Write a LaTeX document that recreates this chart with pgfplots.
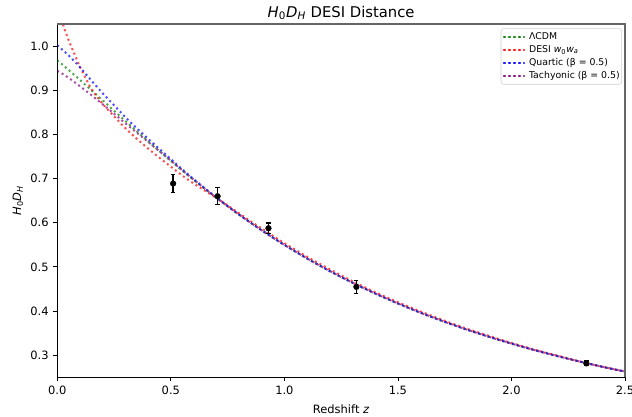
\documentclass[border=0pt]{standalone}
\usepackage{pgfplots}
\usepackage{pgfplotstable}
\pgfplotsset{compat=1.18}
\usepackage{fontspec}
\setmainfont{DejaVu Sans}
\definecolor{mplg}{RGB}{0,128,0}
\definecolor{mplr}{RGB}{255,0,0}
\definecolor{mplb}{RGB}{0,0,255}
\definecolor{mplp}{RGB}{128,0,128}

\pgfplotstableread{
z D
0 0.9680
0.025 0.9570
0.05 0.9459
0.075 0.9346
0.1 0.9233
0.15 0.9002
0.2 0.8770
0.25 0.8536
0.3 0.8303
0.35 0.8072
0.4 0.7843
0.45 0.7618
0.5 0.7397
0.55 0.7181
0.6 0.6970
0.65 0.6765
0.7 0.6565
0.75 0.6372
0.8 0.6185
0.85 0.6004
0.9 0.5829
0.95 0.5661
1.0 0.5498
1.1 0.5190
1.2 0.4905
1.3 0.4641
1.4 0.4397
1.5 0.4171
1.6 0.3961
1.7 0.3767
1.8 0.3586
1.9 0.3419
2.0 0.3263
2.1 0.3118
2.2 0.2983
2.3 0.2857
2.4 0.2739
2.5 0.2629
}\lcdm

\pgfplotstableread{
z D
0 1.093
0.025 1.049
0.05 1.013
0.075 0.983
0.1 0.953
0.15 0.903
0.2 0.869
0.25 0.841
0.3 0.814
0.35 0.790
0.4 0.768
0.45 0.747
0.5 0.727
0.55 0.707
0.6 0.689
0.65 0.6725
0.7 0.6565
0.75 0.6392
0.8 0.6215
0.85 0.6039
0.9 0.5869
0.95 0.5701
1.0 0.5538
1.1 0.5230
1.2 0.4945
1.3 0.4676
1.4 0.4427
1.5 0.4201
1.6 0.3991
1.7 0.3792
1.8 0.3606
1.9 0.3439
2.0 0.3278
2.1 0.3128
2.2 0.2993
2.3 0.2862
2.4 0.2739
2.5 0.2629
}\desi

\pgfplotstableread{
z D
0 1.002
0.025 0.9905
0.05 0.979
0.075 0.9656
0.1 0.952
0.15 0.922
0.2 0.893
0.25 0.866
0.3 0.839
0.35 0.814
0.4 0.790
0.45 0.767
0.5 0.744
0.55 0.721
0.6 0.699
0.65 0.678
0.7 0.6575
0.75 0.6377
0.8 0.6185
0.85 0.6004
0.9 0.5829
0.95 0.5661
1.0 0.5498
1.1 0.5190
1.2 0.4905
1.3 0.4641
1.4 0.4397
1.5 0.4171
1.6 0.3961
1.7 0.3767
1.8 0.3586
1.9 0.3419
2.0 0.3263
2.1 0.3118
2.2 0.2983
2.3 0.2857
2.4 0.2739
2.5 0.2629
}\quartic

\pgfplotstableread{
z D
0 0.944
0.025 0.9365
0.05 0.928
0.075 0.9186
0.1 0.909
0.15 0.889
0.2 0.868
0.25 0.847
0.3 0.825
0.35 0.804
0.4 0.783
0.45 0.7618
0.5 0.7407
0.55 0.7191
0.6 0.6978
0.65 0.6770
0.7 0.6568
0.75 0.6374
0.8 0.6185
0.85 0.6004
0.9 0.5829
0.95 0.5661
1.0 0.5498
1.1 0.5190
1.2 0.4905
1.3 0.4641
1.4 0.4397
1.5 0.4171
1.6 0.3961
1.7 0.3767
1.8 0.3586
1.9 0.3419
2.0 0.3263
2.1 0.3118
2.2 0.2983
2.3 0.2857
2.4 0.2739
2.5 0.2629
}\tachy

\pgfplotstableread{
z D err
0.510 0.6887 0.0205
0.706 0.6600 0.0197
0.930 0.5875 0.0118
1.317 0.4548 0.0150
2.330 0.2814 0.0056
}\desidata

\newcommand{\tickfont}{\fontsize{8.6}{10}\selectfont}
\newcommand{\legfont}{\fontsize{7}{8.5}\selectfont}

\begin{document}
\begin{tikzpicture}
\begin{axis}[
  scale only axis,
  width=425.8pt, height=265pt,
  xmin=0, xmax=2.5, ymin=0.25, ymax=1.05,
  axis x line*=bottom, axis y line*=left,
  axis line style={line width=0.8pt, black},
  xtick={0,0.5,1.0,1.5,2.0,2.5},
  ytick={0.3,0.4,0.5,0.6,0.7,0.8,0.9,1.0},
  tick align=outside,
  major tick length=3pt,
  tick style={black, line width=0.6pt},
  ticklabel style={font=\tickfont},
  /pgf/number format/.cd, fixed, fixed zerofill, precision=1, assume math mode=true,
  /pgfplots/.cd,
  title={\textit{H}\textsubscript{0}\textit{D}\textsubscript{\textit{H}} DESI Distance},
  title style={font=\fontsize{11.1}{13}\selectfont, at={(axis description cs:0.5,1)}, anchor=base, yshift=-1pt},
  xlabel={Redshift \textit{z}},
  xlabel style={font=\tickfont, at={(axis description cs:0.5,0)}, anchor=base, yshift=-26.8pt},
  ylabel={\textit{H}\textsubscript{0}\textit{D}\textsubscript{\textit{H}}},
  ylabel style={font=\tickfont, at={(axis description cs:0,0.5)}, anchor=center, yshift=29.5pt},
  legend style={font=\legfont, draw=black!20, rounded corners=2pt,
    at={(axis description cs:1,1)}, anchor=north east, xshift=-2.3pt, yshift=-3.2pt,
    inner xsep=0.5pt, inner ysep=1.5pt, row sep=0.4pt,
    nodes={inner xsep=1pt, inner ysep=1pt, text height=5.8pt, text depth=1.6pt}},
  legend cell align=left,
  legend image code/.code={\path (-0.75pt,0pt) -- (17.3pt,0pt); \draw[#1] (0pt,0pt) -- (13pt,0pt);},
  every axis plot/.append style={line width=1.5pt, dash pattern=on 1.5pt off 2.3pt, opacity=0.7},
]
\coordinate (BL) at (rel axis cs:0,0);
\coordinate (TR) at (rel axis cs:1,1);
\addplot[mplg, smooth] table[x=z, y=D] {\lcdm};
\addlegendentry{ΛCDM}
\addplot[mplr, smooth] table[x=z, y=D] {\desi};
\addlegendentry{DESI \textit{w}\textsubscript{0}\textit{w}\textsubscript{\textit{a}}}
\addplot[mplb, smooth] table[x=z, y=D] {\quartic};
\addlegendentry{Quartic (β = 0.5)}
\addplot[mplp, smooth] table[x=z, y=D] {\tachy};
\addlegendentry{Tachyonic (β = 0.5)}
\addplot[black, only marks, mark=*, mark size=2.1pt, opacity=1, solid, line width=1.1pt,
  mark options={solid, line width=0.4pt},
  error bars/.cd, y dir=both, y explicit,
  error bar style={line width=1.1pt, solid, black},
  error mark options={line width=0.8pt, mark size=1.6pt, rotate=90, solid, black}]
  table[x=z, y=D, y error=err] {\desidata};
\end{axis}
\draw[black!60, line width=0.8pt] (BL|-TR) -- (TR) -- (TR|-BL);
\pgfresetboundingbox
\path[use as bounding box] ([shift={(-42.98pt,-29.78pt)}]BL) rectangle ([shift={(5.25pt,18pt)}]TR);
\end{tikzpicture}
\end{document}
